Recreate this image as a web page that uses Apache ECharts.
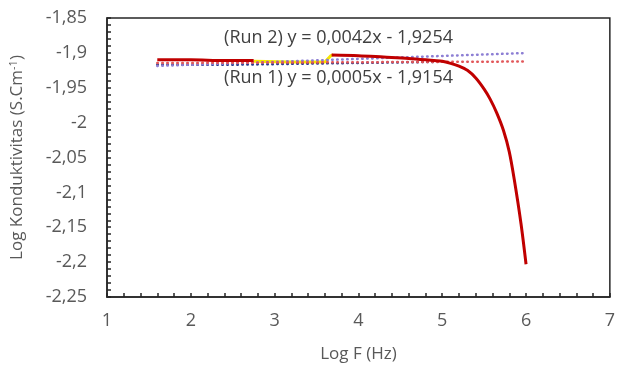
<!DOCTYPE html>
<html>
<head>
<meta charset="utf-8">
<script src="https://cdn.jsdelivr.net/npm/echarts@6/dist/echarts.min.js"></script>
<style>
  html, body { margin: 0; padding: 0; background: #fff; }
  #main { width: 618px; height: 372px; }
</style>
</head>
<body>
<div id="main"></div>
<script>
// values (log F in Hz, log conductivity)
const redLogF = [1.6, 2.0, 2.4, 2.75, 3.2, 3.68, 4.0, 4.3, 4.6, 4.9, 5.0, 5.1, 5.2, 5.3, 5.4, 5.5, 5.57, 5.65, 5.73, 5.8, 5.86, 5.94, 6.0];
const redVal = [-1.910, -1.910, -1.911, -1.911, null, -1.903, -1.904, -1.906, -1.908, -1.911, -1.912, -1.915, -1.919, -1.925, -1.936, -1.952, -1.966, -1.986, -2.011, -2.042, -2.082, -2.145, -2.203];

const yellowLogF = [2.75, 3.2, 3.6, 3.67, 3.7];
const yellowVal = [-1.912, -1.913, -1.913, -1.904, -1.903];

const navyLogF = [1.6, 2.5, 3.65, 4.3, 4.9];
const navyVal = [-1.917, -1.917, -1.915, -1.914, -1.913];

// trendline end points
const trendLogF = [1.6, 6.0];
const trendRun2 = [-1.9187, -1.9002];
const trendRun1 = [-1.9146, -1.9124];

const xTicks = [1, 2, 3, 4, 5, 6, 7];
const yMin = -2.25, yMax = -1.85, yStep = 0.05;

const eqRun2 = '(Run 2) y = 0,0042x - 1,9254';
const eqRun1 = '(Run 1) y = 0,0005x - 1,9154';

const pair = (xs, ys) => xs.map((x, i) => [x, ys[i] === null ? '-' : ys[i]]);
const comma = v => String(+v.toFixed(2)).replace('.', ',');

const font = 'Open Sans';
const txt = '#595959';
const dots = { type: [0.5, 4.5], cap: 'round', width: 2.5 };

const chart = echarts.init(document.getElementById('main'));
chart.setOption({
  animation: false,
  grid: { left: 104, right: 3, top: 18, bottom: 75, show: true, borderColor: '#262626', borderWidth: 1.5 },
  xAxis: {
    type: 'value', min: xTicks[0], max: xTicks[xTicks.length - 1], interval: 1,
    name: 'Log F (Hz)', nameLocation: 'middle', nameGap: 49,
    nameTextStyle: { fontFamily: font, fontSize: 17, color: txt },
    axisLine: { lineStyle: { color: '#262626', width: 1.5 } },
    axisTick: { inside: true, length: 4, lineStyle: { color: '#262626', width: 1.5 } },
    minorTick: { show: true, splitNumber: 5, length: 4, lineStyle: { color: '#262626', width: 1.5 } },
    splitLine: { show: false },
    axisLabel: { fontFamily: font, fontSize: 18, color: txt, margin: 15 }
  },
  yAxis: {
    type: 'value', min: yMin, max: yMax, interval: yStep,
    name: '{a|Log Konduktivitas (S.Cm}{s|-1}{a|)}', nameLocation: 'middle', nameGap: 80,
    nameTextStyle: {
      rich: {
        a: { fontFamily: font, fontSize: 17, color: txt },
        s: { fontFamily: font, fontSize: 11, color: txt, padding: [0, 0, 8, 0] }
      }
    },
    axisLine: { show: true, lineStyle: { color: '#262626', width: 1.5 } },
    axisTick: { show: true, inside: true, length: 4, lineStyle: { color: '#262626', width: 1.5 } },
    minorTick: { show: true, splitNumber: 5, length: 4, lineStyle: { color: '#262626', width: 1.5 } },
    splitLine: { show: false },
    axisLabel: { fontFamily: font, fontSize: 18, color: txt, margin: 20, formatter: comma }
  },
  series: [
    { name: 'yellow', type: 'line', data: pair(yellowLogF, yellowVal), showSymbol: false,
      lineStyle: { color: '#f7e600', width: 3 } },
    { name: 'navy', type: 'line', data: pair(navyLogF, navyVal), showSymbol: false,
      lineStyle: Object.assign({ color: '#2b3a8c' }, dots) },
    { name: 'Trend Run 2', type: 'line', data: pair(trendLogF, trendRun2), showSymbol: false,
      lineStyle: Object.assign({ color: '#8d7fd4' }, dots) },
    { name: 'Trend Run 1', type: 'line', data: pair(trendLogF, trendRun1), showSymbol: false,
      lineStyle: Object.assign({ color: '#e2575a' }, dots) },
    { name: 'red', type: 'line', data: pair(redLogF, redVal), showSymbol: false, smooth: 0.3,
      connectNulls: false, lineStyle: { color: '#c00000', width: 3 } }
  ],
  graphic: [
    { type: 'text', right: 618 - 453, top: 29, style: { text: eqRun2, fontFamily: font, fontSize: 18, fill: '#404040' } },
    { type: 'text', right: 618 - 453, top: 69, style: { text: eqRun1, fontFamily: font, fontSize: 18, fill: '#404040' } }
  ]
});
</script>
</body>
</html>
